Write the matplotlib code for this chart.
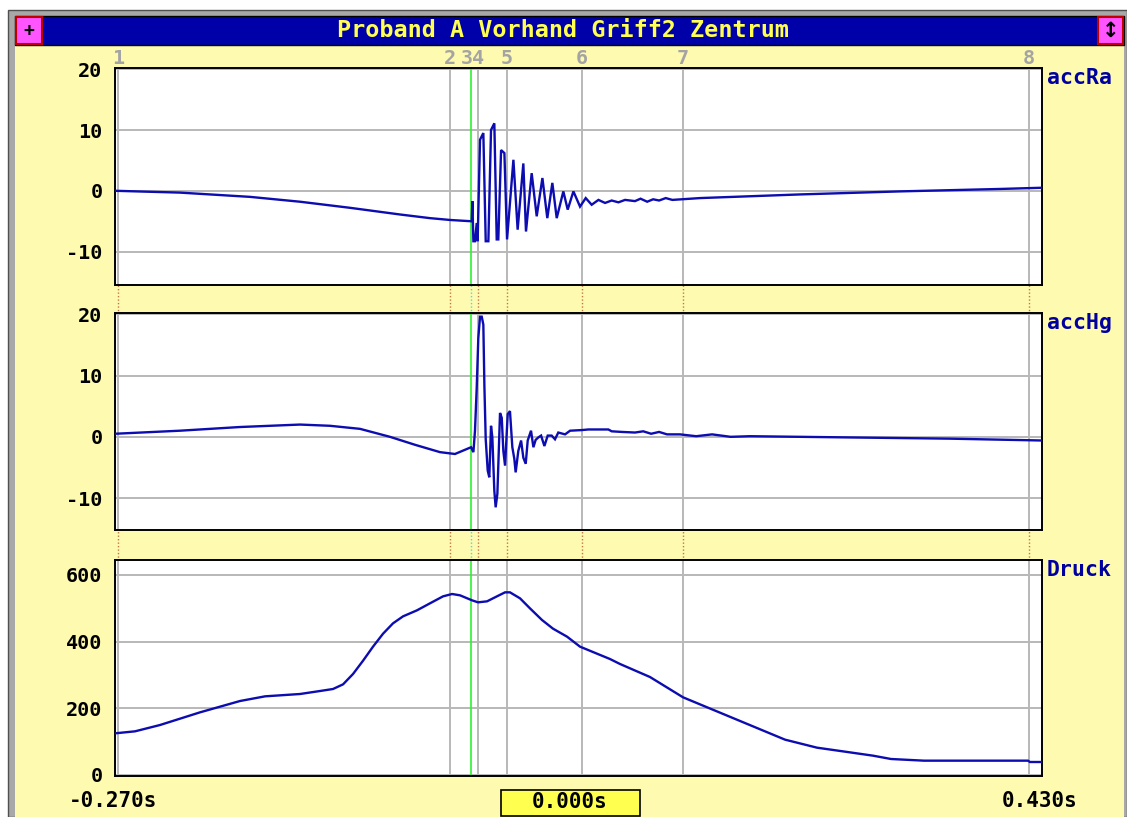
import matplotlib
matplotlib.use("Agg")
import matplotlib.pyplot as plt
from matplotlib.patches import Rectangle
from matplotlib import transforms

# time in ms relative to the cursor (green line)
t_start, t_end = -268.8, 431.1
cursor_t = 0.0
marker_names = ['1', '2', '3', '4', '5', '6', '7', '8']
marker_t = [-266.5, -15.9, -1.5, 5.3, 27.2, 83.8, 160.1, 421.3]

title = "Proband A Vorhand Griff2 Zentrum"
channel_names = ['accRa', 'accHg', 'Druck']
yticks_acc = [20, 10, 0, -10]
yticks_druck = [600, 400, 200, 0]

# accRa
ra_t = [-268.8, -219.7, -166.9, -129.1, -91.4, -53.6, -31.0, -15.9, -0.8, 0.5,
        1.0, 1.8, 3.0, 4.3, 5.0, 6.8, 9.3, 11.1, 13.1, 15.1, 17.6, 19.4, 20.6,
        22.7, 25.2, 27.2, 32.0, 35.2, 39.5, 41.5, 45.8, 49.6, 53.9, 57.6, 61.4,
        64.7, 69.7, 73.0, 77.3, 82.3, 86.6, 91.1, 96.2, 101.2, 106.2, 111.3,
        116.3, 123.8, 128.0, 133.0, 137.5, 142.0, 147.0, 152.0, 172.9, 248.4,
        323.9, 399.4, 431.1]
ra_v = [0.0, -0.3, -1.0, -1.8, -2.8, -3.9, -4.5, -4.8, -5.0, -5.0,
        -1.7, -8.3, -8.3, -5.3, -8.3, 8.4, 9.5, -8.3, -8.3, 10.0, 11.1, -8.0, -8.0,
        6.7, 6.2, -8.0, 5.1, -6.4, 4.5, -6.7, 2.9, -4.2, 2.1, -4.5, 1.3,
        -4.5, -0.1, -3.1, -0.1, -2.6, -1.2, -2.3, -1.5, -2.0, -1.6, -1.9,
        -1.5, -1.7, -1.3, -1.8, -1.4, -1.6, -1.2, -1.5, -1.2, -0.6,
        -0.1, 0.3, 0.5]

# accHg
hg_t = [-268.8, -219.7, -174.4, -129.1, -106.5, -83.8, -61.2, -42.3, -23.4,
        -12.1, 0.0, 1.8, 3.0, 4.3, 5.5, 6.8, 8.1, 9.3, 10.1, 11.1, 12.6, 13.8,
        15.1, 16.1, 17.6, 18.6, 19.9, 21.9, 23.2, 24.4, 25.7, 27.7, 29.4, 31.2,
        32.7, 33.7, 35.7, 37.8, 39.5, 41.3, 42.8, 45.3, 47.1, 48.8, 50.8, 52.9,
        55.4, 57.9, 60.9, 63.4, 65.9, 71.0, 74.8, 83.6, 88.6, 103.7, 106.2,
        113.8, 123.8, 130.0, 136.0, 142.0, 148.0, 157.8, 170.0, 182.0, 196.0,
        210.6, 286.1, 361.6, 431.1]
hg_v = [0.5, 1.0, 1.6, 2.0, 1.8, 1.3, 0.0, -1.3, -2.5,
        -2.8, -1.7, -2.5, 1.0, 8.0, 16.1, 19.6, 19.6, 18.3, 8.3, -0.4, -5.5, -6.6,
        1.8, -0.1, -8.8, -11.5, -9.3, 3.9, 3.1, -2.3, -4.7, 3.7, 4.2, -1.7,
        -3.6, -5.8, -2.3, -0.6, -3.4, -4.4, -0.6, 1.0, -1.7, -0.5, -0.1, 0.2,
        -1.5, 0.2, 0.2, -0.4, 0.7, 0.4, 1.0, 1.1, 1.2, 1.2, 0.9,
        0.8, 0.7, 0.9, 0.5, 0.8, 0.4, 0.4, 0.1, 0.4, 0.0,
        0.1, -0.1, -0.3, -0.6]

# Druck
dr_t = [-268.8, -253.7, -234.8, -204.6, -174.4, -155.5, -129.1, -114.0, -104.2,
        -96.6, -89.1, -81.5, -74.0, -66.4, -58.9, -51.3, -40.8, -31.0, -21.1,
        -14.3, -8.3, 0.8, 5.3, 12.1, 19.6, 25.7, 29.4, 37.0, 44.5, 53.6, 61.9,
        72.5, 82.3, 95.1, 104.9, 112.5, 135.1, 160.1, 188.0, 237.1, 261.2,
        282.4, 303.5, 317.1, 342.0, 420.5, 422.0, 431.1]
dr_v = [125, 131, 150, 188, 222, 236, 243, 252, 258,
        272, 303, 343, 385, 424, 455, 476, 494, 515, 536,
        543, 539, 524, 518, 521, 536, 548, 548, 530, 500, 465, 439,
        415, 385, 364, 348, 333, 294, 233, 187, 106, 82,
        70, 58, 48, 43, 43, 39, 39]

W, H = 1127, 817
yellow = '#fefab0'
trace_col = '#0c0cb0'
grid_col = '#b8b8b8'
font = dict(family='DejaVu Sans Mono', weight='bold')


def box(x0, y0, x1, y1):
    return [x0 / W, 1 - y1 / H, (x1 - x0) / W, (y1 - y0) / H]


fig = plt.figure(figsize=(W / 100, H / 100), dpi=100, facecolor='white')

# window frame
deco = fig.add_axes([0, 0, 1, 1], zorder=-10)
deco.set_xlim(0, W)
deco.set_ylim(H, 0)
deco.axis('off')
deco.add_patch(Rectangle((8, 10), W - 8, H - 10, facecolor='#a8a8a8', edgecolor='#505050', lw=1))
deco.add_patch(Rectangle((15, 16), 1109, H - 16, facecolor=yellow, edgecolor='none'))
deco.add_patch(Rectangle((15, 16), 1109, 29, facecolor='#0000a8', edgecolor='black', lw=1))
deco.add_patch(Rectangle((16, 17), 26, 27, facecolor='#ff55ff', edgecolor='#c00000', lw=1.5))
deco.add_patch(Rectangle((1098, 17), 25, 27, facecolor='#ff55ff', edgecolor='#c00000', lw=1.5))
deco.text(29, 30.5, '+', ha='center', va='center', fontsize=13, color='black', **font)
deco.text(1110.5, 30.5, '\u2195', ha='center', va='center', fontsize=15, color='black',
          family='DejaVu Sans', weight='bold')
deco.text(563, 30.5, title, ha='center', va='center', fontsize=16.8, color='#ffff50', **font)
deco.add_patch(Rectangle((501, 790), 139, 26, facecolor='#ffff50', edgecolor='black', lw=1.2))
deco.text(570, 802, '%.3fs' % (cursor_t / 1000), ha='center', va='center', fontsize=15, **font)
deco.text(113, 801, '%.3fs' % (-0.270), ha='center', va='center', fontsize=15, **font)
deco.text(1040, 801, '%.3fs' % 0.430, ha='center', va='center', fontsize=15, **font)

# layer behind panels: dotted marker lines in the gaps and marker numbers
bg = fig.add_axes(box(115, 45, 1042, 776), zorder=-5)
bg.set_xlim(t_start, t_end)
bg.set_ylim(0, 1)
bg.axis('off')
lab_tr = transforms.blended_transform_factory(bg.transData, fig.transFigure)
for name, m in zip(marker_names, marker_t):
    if name != '3':
        bg.axvline(m, ymax=0.96, color='#c07848', lw=1, ls=(0, (1, 1.5)))
    off = -2.0 if name == '3' else 0.0
    bg.text(m + off, 1 - 58 / H, name, transform=lab_tr, ha='center', va='center',
            fontsize=14.5, color='#a4a4a4', **font)
bg.axvline(cursor_t, ymax=0.96, color='#50d8d8', lw=1, ls=(0, (1, 1.5)))

panels = [
    (68, 285, ra_t, ra_v, (-15.5, 20.2), yticks_acc),
    (313, 530, hg_t, hg_v, (-15.2, 20.2), yticks_acc),
    (560, 776, dr_t, dr_v, (-3, 645), yticks_druck),
]

for (y0, y1, t, v, ylim, ticks), name in zip(panels, channel_names):
    ax = fig.add_axes(box(115, y0, 1042, y1))
    ax.set_facecolor('white')
    ax.set_xlim(t_start, t_end)
    ax.set_ylim(*ylim)
    ax.set_xticks([])
    ax.set_yticks(ticks)
    ax.set_yticklabels([str(k) for k in ticks], fontsize=14.5, **font)
    ax.tick_params(axis='y', length=0, pad=9)
    ax.yaxis.grid(True, color=grid_col, lw=1.4)
    ax.set_axisbelow(True)
    for sp in ax.spines.values():
        sp.set_color('black')
        sp.set_linewidth(1.4)
    # marker 3 sits under the cursor line
    for name_m, m in zip(marker_names, marker_t):
        if name_m != '3':
            ax.axvline(m, color=grid_col, lw=1.4, zorder=1)
    ax.axvline(cursor_t, color='#30f030', lw=1.2, zorder=2)
    ax.plot(t, v, color=trace_col, lw=1.7, zorder=3, solid_joinstyle='miter')
    ax.text(1.005, 1.0 - 10 / (y1 - y0), name, transform=ax.transAxes, ha='left', va='center',
            fontsize=15.5, color='#0000a0', **font)

fig.savefig('out.png', dpi=100, facecolor=fig.get_facecolor())
